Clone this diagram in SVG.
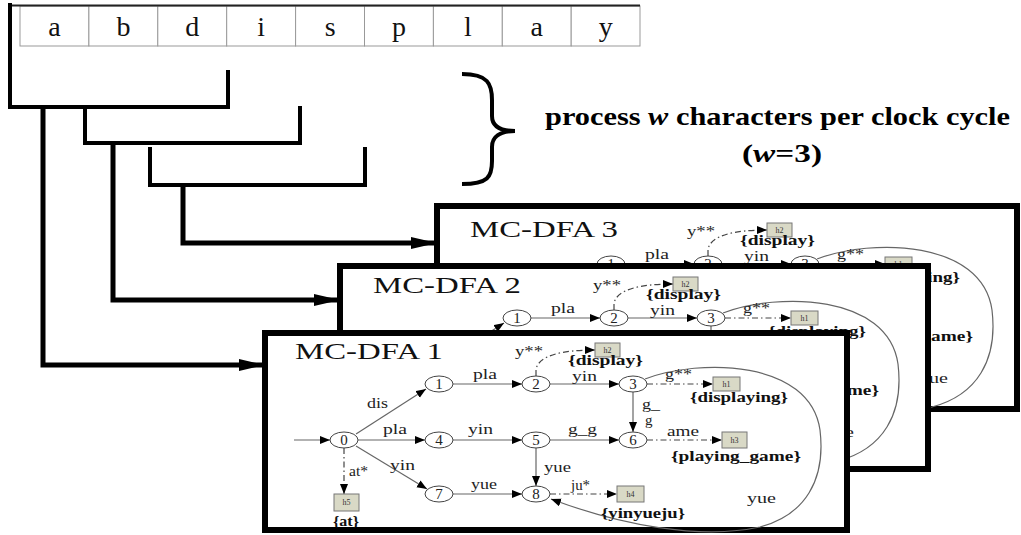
<svg xmlns="http://www.w3.org/2000/svg" xmlns:xlink="http://www.w3.org/1999/xlink" width="1021" height="535" viewBox="0 0 1021 535">
<style>
.cell{fill:#fff;stroke:#999;stroke-width:1}
.ch{font-family:"Liberation Serif",serif;font-size:28px;fill:#111;text-anchor:middle}
.br{fill:none;stroke:#000;stroke-width:4;stroke-linecap:square}
.big{fill:none;stroke:#000;stroke-width:5}
.box{fill:#fff;stroke:#000;stroke-width:6}
.title{font-family:"Liberation Serif",serif;font-size:24px;fill:#111}
.hd{font-family:"Liberation Serif",serif;font-size:25px;font-weight:bold;fill:#000}
.st{fill:#fff;stroke:#444;stroke-width:1}
.num{font-family:"Liberation Serif",serif;font-size:15px;fill:#222;text-anchor:middle}
.e{fill:none;stroke:#666;stroke-width:1.2}
.d{fill:none;stroke:#444;stroke-width:1.2;stroke-dasharray:6,3,1.5,3}
.lb{font-family:"Liberation Serif",serif;font-size:15px;fill:#222}
.set{font-family:"Liberation Serif",serif;font-size:14px;font-weight:bold;fill:#111}
.hb{fill:#d9d9c6;stroke:#777;stroke-width:1}
.ht{font-family:"Liberation Serif",serif;font-size:8px;fill:#333;text-anchor:middle}
</style>
<defs>
<marker id="bigarr" markerUnits="userSpaceOnUse" markerWidth="30" markerHeight="20" refX="26" refY="8" orient="auto">
<path d="M0,2 L26,8 L0,14 Z" fill="#000"/>
</marker>
<marker id="arr" markerUnits="userSpaceOnUse" markerWidth="12" markerHeight="10" refX="10" refY="4" orient="auto">
<path d="M0,0 L10,4 L0,8 Z" fill="#000"/>
</marker>
</defs>

<g id="input-string">
<rect class="cell" x="20" y="6" width="68.9" height="40"/>
<rect class="cell" x="88.9" y="6" width="68.9" height="40"/>
<rect class="cell" x="157.8" y="6" width="68.9" height="40"/>
<rect class="cell" x="226.7" y="6" width="68.9" height="40"/>
<rect class="cell" x="295.6" y="6" width="68.9" height="40"/>
<rect class="cell" x="364.5" y="6" width="68.9" height="40"/>
<rect class="cell" x="433.4" y="6" width="68.9" height="40"/>
<rect class="cell" x="502.3" y="6" width="68.9" height="40"/>
<rect class="cell" x="571.2" y="6" width="68.8" height="40"/>
<line x1="10" y1="5.5" x2="640" y2="5.5" stroke="#222" stroke-width="2"/>
<text class="ch" x="54.5" y="36">a</text>
<text class="ch" x="123.4" y="36">b</text>
<text class="ch" x="192.3" y="36">d</text>
<text class="ch" x="261.2" y="36">i</text>
<text class="ch" x="330.1" y="36">s</text>
<text class="ch" x="399" y="36">p</text>
<text class="ch" x="467.9" y="36">l</text>
<text class="ch" x="536.8" y="36">a</text>
<text class="ch" x="605.7" y="36">y</text>
</g>

<g id="windows">
<path class="br" d="M10,5 L10,107 L228,107 L228,72"/>
<path class="br" d="M85,107 L85,143 L300,143 L300,108"/>
<path class="br" d="M150,149 L150,185 L365,185 L365,149"/>
<path d="M462,74 C488,74 492,84 492,100 L492,116 C492,126 500,131 515,131 C500,131 492,137 492,147 L492,161 C492,177 488,184 462,184" fill="none" stroke="#000" stroke-width="4"/>
</g>

<g id="caption">
<text class="hd" x="545" y="125" textLength="465" lengthAdjust="spacingAndGlyphs">process <tspan font-style="italic">w</tspan> characters per clock cycle</text>
<text class="hd" x="742" y="162" textLength="80" lengthAdjust="spacingAndGlyphs">(<tspan font-style="italic">w</tspan>=3)</text>
</g>

<g id="connectors">
<path class="big" d="M43,107 L43,365 L265,365" marker-end="url(#bigarr)"/>
<path class="big" d="M113,143 L113,300 L340,300" marker-end="url(#bigarr)"/>
<path class="big" d="M183,185 L183,243 L437,243" marker-end="url(#bigarr)"/>
</g>

<g id="mcdfa3">
<rect class="box" x="437" y="206" width="580" height="203"/>
<text class="title" x="470" y="237" textLength="148" lengthAdjust="spacingAndGlyphs">MC-DFA 3</text>
<use xlink:href="#dfa-graph" href="#dfa-graph" transform="translate(172,-120)"/>
</g>

<g id="mcdfa2">
<rect class="box" x="340" y="266" width="588" height="203"/>
<text class="title" x="373" y="293" textLength="148" lengthAdjust="spacingAndGlyphs">MC-DFA 2</text>
<use xlink:href="#dfa-graph" href="#dfa-graph" transform="translate(78,-66)"/>
</g>

<g id="mcdfa1">
<rect class="box" x="265" y="333" width="582" height="197"/>
<text class="title" x="295" y="359" textLength="148" lengthAdjust="spacingAndGlyphs">MC-DFA 1</text>
<g id="dfa-graph">
<g id="dfa-edges">
<line class="e" x1="294" y1="440" x2="330" y2="440" marker-end="url(#arr)"/>
<line class="e" x1="356" y1="434" x2="426" y2="389" marker-end="url(#arr)"/>
<line class="e" x1="358" y1="440" x2="425" y2="440" marker-end="url(#arr)"/>
<line class="e" x1="356" y1="446" x2="427" y2="489" marker-end="url(#arr)"/>
<line class="e" x1="453" y1="384" x2="522" y2="384" marker-end="url(#arr)"/>
<line class="e" x1="550" y1="384" x2="619" y2="384" marker-end="url(#arr)"/>
<line class="e" x1="453" y1="440" x2="522" y2="440" marker-end="url(#arr)"/>
<line class="e" x1="550" y1="440" x2="619" y2="440" marker-end="url(#arr)"/>
<line class="e" x1="633" y1="392" x2="633" y2="432" marker-end="url(#arr)"/>
<line class="e" x1="536" y1="448" x2="536" y2="486" marker-end="url(#arr)"/>
<line class="e" x1="453" y1="494" x2="522" y2="494" marker-end="url(#arr)"/>
<path class="e" d="M645,379 C700,358 810,360 820,430 C826,480 805,515 760,527 C700,540 620,525 551,499" marker-end="url(#arr)"/>
<line class="d" x1="344" y1="448" x2="344" y2="494" marker-end="url(#arr)"/>
<path class="d" d="M536,376 L536,369 C539,356 560,350 595,350" marker-end="url(#arr)"/>
<line class="d" x1="647" y1="384" x2="713" y2="384" marker-end="url(#arr)"/>
<line class="d" x1="647" y1="440" x2="722" y2="440" marker-end="url(#arr)"/>
<line class="d" x1="550" y1="494" x2="617" y2="494" marker-end="url(#arr)"/>
</g>
<g id="s0"><ellipse class="st" cx="344" cy="440" rx="14" ry="8"/><text class="num" x="344" y="445">0</text></g>
<g id="s1"><ellipse class="st" cx="439" cy="384" rx="14" ry="8"/><text class="num" x="439" y="389">1</text></g>
<g id="s2"><ellipse class="st" cx="536" cy="384" rx="14" ry="8"/><text class="num" x="536" y="389">2</text></g>
<g id="s3"><ellipse class="st" cx="633" cy="384" rx="14" ry="8"/><text class="num" x="633" y="389">3</text></g>
<g id="s4"><ellipse class="st" cx="439" cy="440" rx="14" ry="8"/><text class="num" x="439" y="445">4</text></g>
<g id="s5"><ellipse class="st" cx="536" cy="440" rx="14" ry="8"/><text class="num" x="536" y="445">5</text></g>
<g id="s6"><ellipse class="st" cx="633" cy="440" rx="14" ry="8"/><text class="num" x="633" y="445">6</text></g>
<g id="s7"><ellipse class="st" cx="439" cy="494" rx="14" ry="8"/><text class="num" x="439" y="499">7</text></g>
<g id="s8"><ellipse class="st" cx="536" cy="494" rx="14" ry="8"/><text class="num" x="536" y="499">8</text></g>
<g id="h1"><rect class="hb" x="713" y="377" width="27" height="14"/><text class="ht" x="726.5" y="387">h1</text></g>
<g id="h2"><rect class="hb" x="595" y="343" width="25" height="14"/><text class="ht" x="607.5" y="353">h2</text></g>
<g id="h3"><rect class="hb" x="722" y="432" width="25" height="16"/><text class="ht" x="734.5" y="443">h3</text></g>
<g id="h4"><rect class="hb" x="617" y="486" width="27" height="16"/><text class="ht" x="630.5" y="497">h4</text></g>
<g id="h5"><rect class="hb" x="334" y="494" width="25" height="17"/><text class="ht" x="346.5" y="505">h5</text></g>
<g id="dfa-labels">
<text class="lb" x="367" y="408" textLength="21" lengthAdjust="spacingAndGlyphs">dis</text>
<text class="lb" x="473" y="379" textLength="24" lengthAdjust="spacingAndGlyphs">pla</text>
<text class="lb" x="572" y="381" textLength="25" lengthAdjust="spacingAndGlyphs">yin</text>
<text class="lb" x="515" y="356" textLength="28" lengthAdjust="spacingAndGlyphs">y**</text>
<text class="set" x="568" y="365" textLength="75" lengthAdjust="spacingAndGlyphs">{display}</text>
<text class="lb" x="665" y="379" textLength="27" lengthAdjust="spacingAndGlyphs">g**</text>
<text class="set" x="690" y="402" textLength="98" lengthAdjust="spacingAndGlyphs">{displaying}</text>
<text class="lb" x="642" y="409" textLength="18" lengthAdjust="spacingAndGlyphs">g_</text>
<text class="lb" x="645" y="425">g</text>
<text class="lb" x="383" y="434" textLength="24" lengthAdjust="spacingAndGlyphs">pla</text>
<text class="lb" x="468" y="434" textLength="25" lengthAdjust="spacingAndGlyphs">yin</text>
<text class="lb" x="568" y="434" textLength="29" lengthAdjust="spacingAndGlyphs">g_g</text>
<text class="lb" x="667" y="436" textLength="32" lengthAdjust="spacingAndGlyphs">ame</text>
<text class="set" x="671" y="461" textLength="130" lengthAdjust="spacingAndGlyphs">{playing_game}</text>
<text class="lb" x="390" y="470" textLength="25" lengthAdjust="spacingAndGlyphs">yin</text>
<text class="lb" x="349" y="476" textLength="19" lengthAdjust="spacingAndGlyphs">at*</text>
<text class="lb" x="544" y="472" textLength="27" lengthAdjust="spacingAndGlyphs">yue</text>
<text class="lb" x="471" y="489" textLength="26" lengthAdjust="spacingAndGlyphs">yue</text>
<text class="lb" x="571" y="490" textLength="19" lengthAdjust="spacingAndGlyphs">ju*</text>
<text class="set" x="601" y="518" textLength="84" lengthAdjust="spacingAndGlyphs">{yinyueju}</text>
<text class="lb" x="747" y="503" textLength="29" lengthAdjust="spacingAndGlyphs">yue</text>
<text class="set" x="333" y="526" textLength="26" lengthAdjust="spacingAndGlyphs">{at}</text>
</g>
</g>
</g>
</svg>
